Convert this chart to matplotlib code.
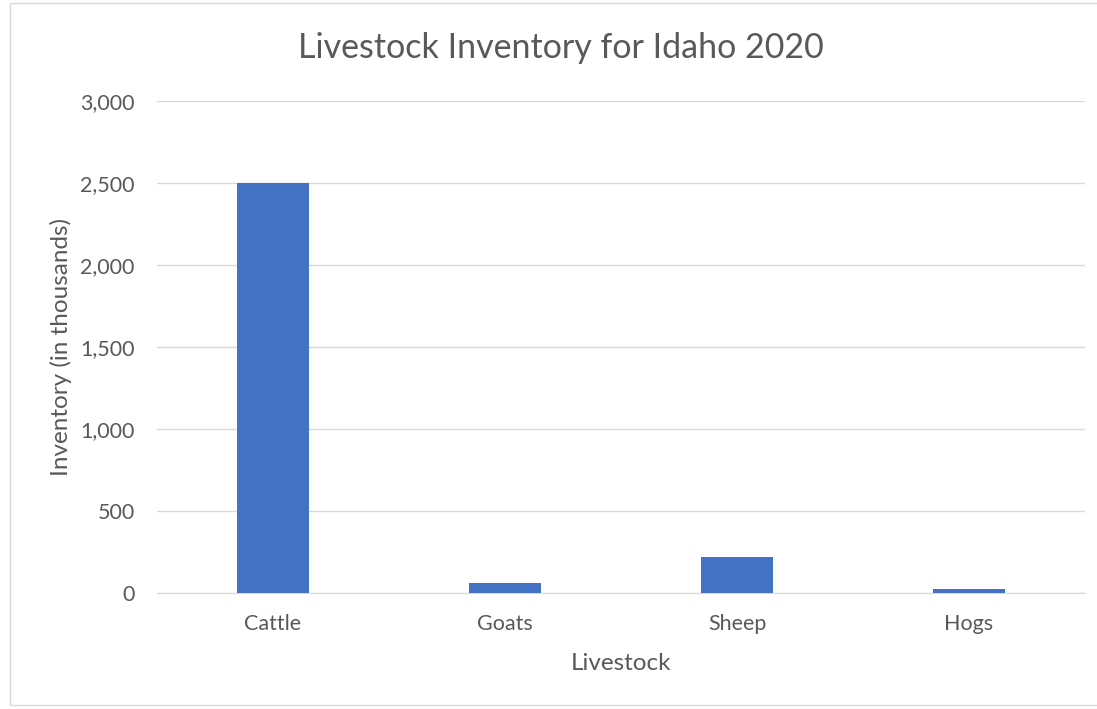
import matplotlib.pyplot as plt
from matplotlib.patches import Rectangle

livestock = ["Cattle", "Goats", "Sheep", "Hogs"]
inventory = [2500, 62, 220, 25]
yticks = [0, 500, 1000, 1500, 2000, 2500, 3000]

plt.rcParams['font.family'] = ['Lato', 'DejaVu Sans']
grey = '#595959'

fig = plt.figure(figsize=(10.97, 7.09), dpi=100)
ax = fig.add_axes([157/1097, 1-593/709, 928/1097, 492/709])

# chart border like excel
fig.patches.append(Rectangle((10/1097, 4/709), 1.0, 702/709, transform=fig.transFigure,
                             fill=False, edgecolor='#d9d9d9', linewidth=1))

x = range(len(livestock))
ax.bar(x, inventory, width=0.31, color='#4472c4', zorder=3)
ax.set_xlim(-0.5, len(livestock) - 0.5)
ax.set_ylim(0, 3000)
ax.set_yticks(yticks)
ax.set_yticklabels([f"{v:,}" for v in yticks])
ax.set_xticks(list(x))
ax.set_xticklabels(livestock)
ax.grid(axis='y', color='#d9d9d9', linewidth=1, zorder=0)
for s in ['top', 'right', 'left']:
    ax.spines[s].set_visible(False)
ax.spines['bottom'].set_color('#d9d9d9')
ax.tick_params(length=0, labelsize=15.5, labelcolor=grey)
ax.tick_params(axis='x', pad=15)
ax.tick_params(axis='y', pad=16)

ax.set_xlabel("Livestock", fontsize=17.5, color=grey)
ax.xaxis.set_label_coords(0.5, -(663-593)/492, transform=ax.transAxes)
ax.xaxis.label.set_va('center')
ax.set_ylabel("Inventory (in thousands)", fontsize=17.5, color=grey)
ax.yaxis.set_label_coords(-(157-61)/928, 0.5)
ax.yaxis.label.set_va('center')
fig.text(561/1097, 1-48/709, "Livestock Inventory for Idaho 2020", fontsize=24.5, color=grey,
         ha='center', va='center')

fig.savefig("out.png", dpi=100)
